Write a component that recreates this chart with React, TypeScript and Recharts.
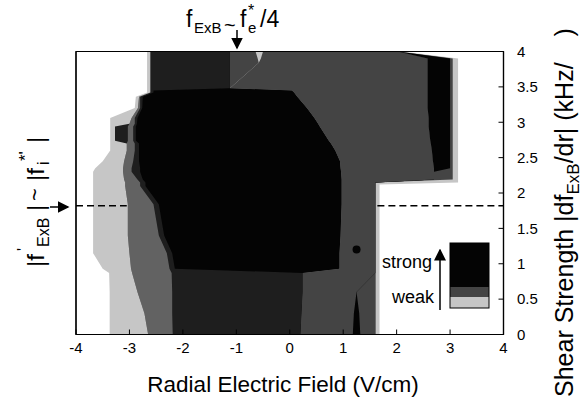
import React from 'react';
import {
  ComposedChart,
  Area,
  XAxis,
  YAxis,
  ReferenceLine,
  ReferenceArea,
  ReferenceDot,
} from 'recharts';

// rows of the contour map (shear strength, kHz/cm) and, per shaded band,
// the x (V/cm) where that band ends in each row
const yRows = [0, 0.3, 0.6, 0.87, 0.93, 1.15, 1.4, 1.84, 2.1, 2.12, 2.15, 2.19, 2.3, 2.35, 2.45, 2.6, 2.7, 2.74, 2.94, 2.98, 3.06, 3.2, 3.36, 3.42, 3.45, 3.48, 3.84, 3.9, 4.0];

const whiteLeft = [-3.37, -3.37, -3.37, -3.38, -3.5, -3.68, -3.68, -3.68, -3.68, -3.68, -3.68, -3.68, -3.68, -3.64, -3.5, -3.36, -3.36, -3.36, -3.36, -3.36, -3.36, -2.9, -2.88, -2.67, -2.67, -2.67, -2.67, -2.67, -2.67];
const lightLeft = [-2.65, -2.72, -2.85, -2.95, -2.97, -3.0, -3.03, -3.03, -3.08, -3.08, -3.08, -3.1, -3.12, -3.12, -3.1, -3.05, -3.05, -3.27, -3.27, -3.0, -2.96, -2.84, -2.82, -2.61, -2.61, -2.61, -2.61, -2.61, -2.61];
const blockLeft = [-2.65, -2.72, -2.85, -2.95, -2.97, -3.0, -3.03, -3.03, -3.08, -3.08, -3.08, -3.1, -3.12, -3.12, -3.1, -3.05, -3.05, -3.03, -3.03, -3.0, -2.96, -2.84, -2.82, -2.61, -2.61, -2.61, -2.61, -2.61, -2.61];
const mediumLeft = [-2.19, -2.2, -2.2, -2.21, -2.25, -2.3, -2.45, -2.55, -2.8, -2.8, -2.8, -2.85, -2.96, -2.96, -2.93, -2.9, -2.9, -2.93, -2.93, -2.9, -2.9, -2.8, -2.8, -2.61, -2.61, -2.61, -2.61, -2.61, -2.61];
const darkLeft = [0.2, 0.22, 0.24, 0.24, -2.15, -2.2, -2.35, -2.45, -2.7, -2.7, -2.7, -2.75, -2.8, -2.8, -2.82, -2.82, -2.82, -2.88, -2.88, -2.86, -2.85, -2.76, -2.75, -2.55, -2.55, -1.12, -1.12, -1.12, -1.12];
const blackCore = [0.2, 0.22, 0.24, 0.24, 0.93, 0.93, 0.95, 0.97, 0.97, 0.97, 0.97, 0.97, 0.96, 0.95, 0.94, 0.85, 0.77, 0.73, 0.56, 0.53, 0.46, 0.32, 0.14, 0.08, 0.04, -1.12, -1.12, -1.12, -1.12];
const mediumTop = [0.2, 0.22, 0.24, 0.24, 0.93, 0.93, 0.95, 0.97, 0.97, 0.97, 0.97, 0.97, 0.96, 0.95, 0.94, 0.85, 0.77, 0.73, 0.56, 0.53, 0.46, 0.32, 0.14, 0.08, 0.04, -1.12, -0.58, -0.6, -0.64];
const dripTop = [0.2, 0.22, 0.24, 0.24, 0.93, 0.93, 0.95, 0.97, 0.97, 0.97, 0.97, 0.97, 0.96, 0.95, 0.94, 0.85, 0.77, 0.73, 0.56, 0.53, 0.46, 0.32, 0.14, 0.08, 0.04, -1.12, -0.58, -0.54, -0.5];
const mediumRight = [1.18, 1.2, 1.25, 1.6, 1.6, 1.6, 1.6, 1.6, 1.6, 1.6, 1.6, 2.7, 2.7, 2.7, 2.68, 2.66, 2.64, 2.63, 2.6, 2.6, 2.6, 2.58, 2.58, 2.58, 2.58, 2.58, 2.58, 2.58, 2.02];
const spikeRight = [1.32, 1.3, 1.25, 1.6, 1.6, 1.6, 1.6, 1.6, 1.6, 1.6, 1.6, 2.7, 2.7, 2.7, 2.68, 2.66, 2.64, 2.63, 2.6, 2.6, 2.6, 2.58, 2.58, 2.58, 2.58, 2.58, 2.58, 2.58, 2.02];
const mediumRight2 = [1.6, 1.6, 1.6, 1.6, 1.6, 1.6, 1.6, 1.6, 1.6, 1.6, 1.6, 2.7, 2.7, 2.7, 2.68, 2.66, 2.64, 2.63, 2.6, 2.6, 2.6, 2.58, 2.58, 2.58, 2.58, 2.58, 2.58, 2.58, 2.02];
const blackBlock = [1.6, 1.6, 1.6, 1.6, 1.6, 1.6, 1.6, 1.6, 1.6, 1.6, 1.6, 2.7, 2.7, 3.0, 3.0, 3.0, 3.0, 3.0, 3.0, 3.0, 3.0, 3.0, 3.0, 3.0, 3.0, 3.0, 3.0, 3.0, 2.02];
const mediumRight3 = [1.6, 1.6, 1.6, 1.6, 1.6, 1.6, 1.6, 1.6, 1.6, 1.6, 1.6, 3.05, 3.05, 3.05, 3.05, 3.05, 3.05, 3.05, 3.05, 3.05, 3.05, 3.05, 3.05, 3.05, 3.05, 3.05, 3.05, 3.05, 2.02];
const lightRight = [1.68, 1.68, 1.68, 1.68, 1.68, 1.68, 1.68, 1.68, 1.68, 1.68, 3.15, 3.15, 3.15, 3.15, 3.15, 3.15, 3.15, 3.15, 3.15, 3.15, 3.15, 3.15, 3.15, 3.15, 3.15, 3.15, 3.15, 3.15, 2.1];

const xTicks = [-4, -3, -2, -1, 0, 1, 2, 3, 4];
const yTicks = [0, 0.5, 1, 1.5, 2, 2.5, 3, 3.5, 4];

const dashLevel = 1.82;
const dashLeft = [-4, -3.05];
const dashRight = [1.64, 4];
const blob = { x: 1.25, y: 1.2 };

const shade = {
  white: '#ffffff',
  light: '#c6c6c6',
  gray: '#626262',
  medium: '#444444',
  dark: '#1e1e1e',
  black: '#040404',
};

// painted widest first, every band starts at the left frame
const bands = [
  { key: 'lightRight', edges: lightRight, fill: shade.light },
  { key: 'mediumRight3', edges: mediumRight3, fill: shade.medium },
  { key: 'blackBlock', edges: blackBlock, fill: shade.black },
  { key: 'mediumRight2', edges: mediumRight2, fill: shade.medium },
  { key: 'spikeRight', edges: spikeRight, fill: shade.black },
  { key: 'mediumRight', edges: mediumRight, fill: shade.medium },
  { key: 'dripTop', edges: dripTop, fill: shade.light },
  { key: 'mediumTop', edges: mediumTop, fill: shade.medium },
  { key: 'blackCore', edges: blackCore, fill: shade.black },
  { key: 'darkLeft', edges: darkLeft, fill: shade.dark },
  { key: 'mediumLeft', edges: mediumLeft, fill: shade.gray },
  { key: 'blockLeft', edges: blockLeft, fill: shade.dark },
  { key: 'lightLeft', edges: lightLeft, fill: shade.light },
  { key: 'whiteLeft', edges: whiteLeft, fill: shade.white },
];

const rows = yRows.map((y, i) => {
  const row: any = { y };
  bands.forEach((b) => {
    row[b.key] = [-4, b.edges[i]];
  });
  return row;
});

const font = '"Liberation Sans", Arial, Helvetica, sans-serif';
const tickStyle = { fontSize: 15, fill: '#000', fontFamily: font };

const Annotations = () => (
  <svg
    width={585}
    height={401}
    style={{ position: 'absolute', left: 0, top: 0, pointerEvents: 'none', fontFamily: font }}
  >
    <defs>
      <marker id="head" markerWidth="8" markerHeight="8" refX="7" refY="4" orient="auto">
        <path d="M0,0 L8,4 L0,8 z" fill="#000" />
      </marker>
    </defs>

    {/* top note */}
    <text x={186} y={27} fontSize={23}>f</text>
    <text x={194} y={33} fontSize={15}>ExB</text>
    <text x={224} y={32} fontSize={20}>~</text>
    <text x={240} y={27} fontSize={23}>f</text>
    <text x={248} y={16} fontSize={16}>*</text>
    <text x={248} y={33} fontSize={15}>e</text>
    <text x={260} y={27} fontSize={23}>/4</text>
    <line x1={237} y1={30} x2={237} y2={48} stroke="#000" strokeWidth={1.5} markerEnd="url(#head)" />

    {/* left note */}
    <g transform="translate(44,267) rotate(-90)">
      <text x={0} y={0} fontSize={24}>|f</text>
      <text x={16} y={-15} fontSize={16}>'</text>
      <text x={20} y={5} fontSize={16}>ExB</text>
      <text x={56} y={0} fontSize={24}>|</text>
      <text x={66} y={-2} fontSize={22}>~</text>
      <text x={86} y={0} fontSize={24}>|f</text>
      <text x={102} y={5} fontSize={16}>i</text>
      <text x={106} y={-13} fontSize={17}>*'</text>
      <text x={124} y={0} fontSize={24}>|</text>
    </g>
    <line x1={50} y1={207} x2={68} y2={207} stroke="#000" strokeWidth={1.5} markerEnd="url(#head)" />

    {/* right axis title */}
    <g transform="translate(573,397) rotate(-90)">
      <text x={0} y={0} fontSize={25}>
        Shear Strength |df
        <tspan fontSize={17} dy={6}>ExB</tspan>
        <tspan dy={-6}>/dr| (kHz/</tspan>
        <tspan dx={26}>)</tspan>
      </text>
    </g>

    {/* bottom axis title */}
    <text x={283} y={392} fontSize={22.5} textAnchor="middle">
      Radial Electric Field (V/cm)
    </text>

    {/* inset legend */}
    <rect x={450} y={243} width={39} height={44} fill={shade.black} />
    <rect x={450} y={287} width={39} height={10} fill={shade.medium} />
    <rect x={450} y={297} width={39} height={11} fill={shade.light} />
    <rect x={450} y={243} width={39} height={65} fill="none" stroke="#000" strokeWidth={1} />
    <text x={382} y={268} fontSize={18}>strong</text>
    <text x={392} y={303} fontSize={18}>weak</text>
    <line x1={440} y1={310} x2={440} y2={250} stroke="#000" strokeWidth={1.5} markerEnd="url(#head)" />
  </svg>
);

export default function App() {
  return (
    <div style={{ position: 'absolute', left: 0, top: 0, width: 585, height: 401, background: '#fff' }}>
      <ComposedChart
        width={585}
        height={401}
        data={rows}
        layout="vertical"
        margin={{ top: 50.5, right: 41.5, bottom: 36.5, left: 75 }}
      >
        <XAxis
          type="number"
          domain={[-4, 4]}
          ticks={xTicks}
          interval={0}
          allowDataOverflow
          height={30}
          tickSize={-5}
          tickMargin={12.5}
          tick={tickStyle}
          axisLine={{ stroke: '#000', strokeWidth: 1.2 }}
          tickLine={{ stroke: '#000' }}
        />
        <XAxis
          xAxisId="t"
          orientation="top"
          type="number"
          domain={[-4, 4]}
          ticks={xTicks}
          interval={0}
          height={1}
          tickSize={-5}
          tick={false}
          axisLine={{ stroke: '#000', strokeWidth: 1.2 }}
          tickLine={{ stroke: '#000' }}
        />
        <YAxis
          orientation="right"
          type="number"
          dataKey="y"
          reversed
          domain={[0, 4]}
          ticks={yTicks}
          interval={0}
          allowDataOverflow
          width={40}
          tickSize={-5}
          tickMargin={18.5}
          tick={tickStyle}
          axisLine={{ stroke: '#000', strokeWidth: 1.2 }}
          tickLine={{ stroke: '#000' }}
        />
        <YAxis
          yAxisId="l"
          orientation="left"
          type="number"
          dataKey="y"
          reversed
          domain={[0, 4]}
          ticks={yTicks}
          interval={0}
          width={1}
          tickSize={-5}
          tick={false}
          axisLine={{ stroke: '#000', strokeWidth: 1.2 }}
          tickLine={{ stroke: '#000' }}
        />

        {bands.map((b) => (
          <Area
            key={b.key}
            dataKey={b.key}
            type="linear"
            stroke="none"
            fill={b.fill}
            fillOpacity={1}
            dot={false}
            activeDot={false}
            isAnimationActive={false}
          />
        ))}

        <ReferenceDot x={blob.x} y={blob.y} r={4} fill={shade.black} stroke="none" />
        <ReferenceLine
          segment={[{ x: dashLeft[0], y: dashLevel }, { x: dashLeft[1], y: dashLevel }]}
          stroke="#000"
          strokeWidth={1.5}
          strokeDasharray="7 4"
        />
        <ReferenceLine
          segment={[{ x: dashRight[0], y: dashLevel }, { x: dashRight[1], y: dashLevel }]}
          stroke="#000"
          strokeWidth={1.5}
          strokeDasharray="7 4"
        />
        <ReferenceArea x1={-4} x2={4} y1={0} y2={4} fill="none" stroke="#000" strokeWidth={1.2} />
      </ComposedChart>
      <Annotations />
    </div>
  );
}
